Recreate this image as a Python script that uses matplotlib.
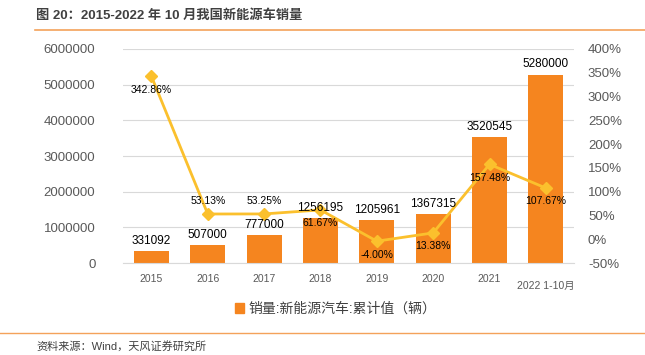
import matplotlib
matplotlib.use("Agg")
import matplotlib.pyplot as plt
from matplotlib.ticker import FuncFormatter
from matplotlib.patches import Patch

plt.rcParams['font.family'] = ['Liberation Sans', 'Noto Sans CJK SC', 'DejaVu Sans']

years = ["2015", "2016", "2017", "2018", "2019", "2020", "2021", "2022 1-10月"]
sales = [331092, 507000, 777000, 1256195, 1205961, 1367315, 3520545, 5280000]
growth = [342.86, 53.13, 53.25, 61.67, -4.00, 13.38, 157.48, 107.67]
# label above (True) or below (False) the growth point
growth_above = [False, True, True, False, False, False, False, False]

BAR = "#F5851F"
LINE = "#FBC02D"
GRID = "#D9D9D9"
TICK = "#595959"
RULE = "#F4A25A"

fig = plt.figure(figsize=(6.45, 3.55), dpi=100)
ax = fig.add_axes([0.191, 0.259, 0.699, 0.603])
xs = list(range(len(years)))

ax.bar(xs, sales, width=0.62, color=BAR, zorder=2)

ax.set_ylim(0, 6000000)
ax.set_xlim(-0.5, len(years) - 0.5)
ax.set_yticks(range(0, 6000001, 1000000))
ax.yaxis.set_major_formatter(FuncFormatter(lambda v, p: f"{v:.0f}"))
ax.yaxis.grid(True, color=GRID, linewidth=0.8, zorder=0)
ax.set_axisbelow(True)
for s in ax.spines.values():
    s.set_visible(False)
ax.spines["bottom"].set_visible(True)
ax.spines["bottom"].set_color(GRID)
ax.tick_params(axis="y", length=0, labelsize=9.5, labelcolor=TICK, pad=20)
ax.tick_params(axis="x", length=0, labelsize=7.5, labelcolor=TICK, pad=8)
ax.set_xticks(xs)
ax.set_xticklabels(years)
ax.get_xticklabels()[-1].set_y(-0.03)

ax2 = ax.twinx()
ax2.plot(xs, growth, color=LINE, linewidth=2, marker="D", markersize=6, zorder=3)
for x, g, up in zip(xs, growth, growth_above):
    off = 6 if up else -6
    ax2.annotate(f"{g:.2f}%", (x, g), xytext=(0, off), textcoords="offset points",
                 ha="center", va="bottom" if up else "top", fontsize=7.5,
                 color="black", zorder=5)
# bar value labels drawn on the top axes so they sit above the line
for x, v in zip(xs, sales):
    ax2.text(x, v + 120000, str(v), transform=ax.transData, ha="center",
             va="bottom", fontsize=8.5, color="black", zorder=5)
ax2.set_ylim(-50, 400)
ax2.set_yticks(range(-50, 401, 50))
ax2.yaxis.set_major_formatter(FuncFormatter(lambda v, p: f"{v:.0f}%"))
ax2.tick_params(axis="y", length=0, labelsize=9.5, labelcolor=TICK, pad=10)
for s in ax2.spines.values():
    s.set_visible(False)

# legend (only the bar series)
fig.legend(handles=[Patch(color=BAR, label="销量:新能源汽车:累计值（辆）")],
           loc="center", bbox_to_anchor=(0.52, 0.13), frameon=False,
           fontsize=10, handlelength=0.7, handleheight=0.7, handletextpad=0.3,
           labelcolor="#404040")

# title and footer
fig.text(0.056, 0.955, "图 20：2015-2022 年 10 月我国新能源车销量", fontsize=9.5,
         fontweight="bold", color="#404040", va="center")
fig.add_artist(plt.Line2D([0.054, 1.0], [0.915, 0.915], color=RULE, linewidth=1.2))
fig.add_artist(plt.Line2D([0.0, 1.0], [0.062, 0.062], color=RULE, linewidth=1.0))
fig.text(0.056, 0.025, "资料来源：Wind，天风证券研究所", fontsize=8, color="#404040", va="center")

fig.savefig("out.png", dpi=100)
